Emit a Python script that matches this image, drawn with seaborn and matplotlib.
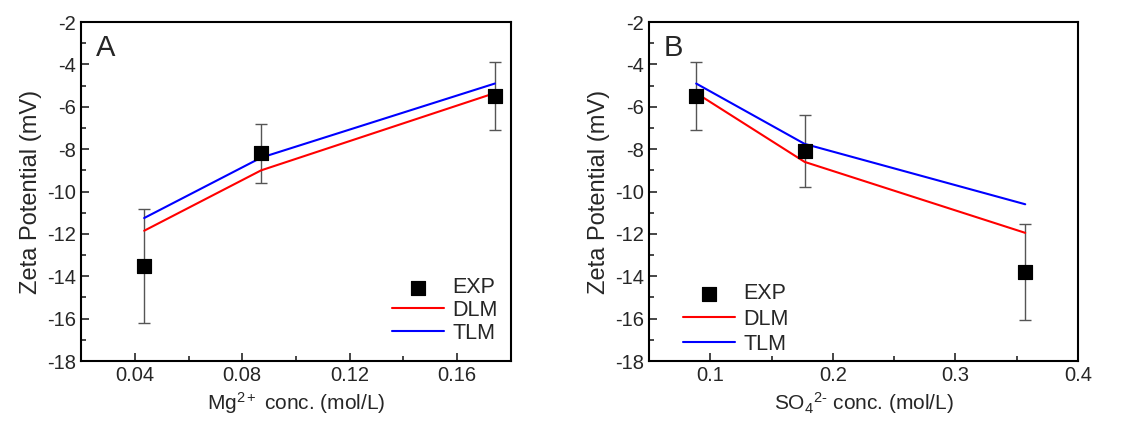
import numpy as np
import pandas as pd
import seaborn as sns
import matplotlib.pyplot as plt
from matplotlib.ticker import MultipleLocator

# Panel A: Mg2+
mg_exp_x = [0.0435, 0.087, 0.174]
mg_exp_y = [-13.5, -8.2, -5.5]
mg_exp_err = [2.7, 1.4, 1.6]
mg_dlm = [-11.85, -9.0, -5.35]
mg_tlm = [-11.25, -8.4, -4.9]

# Panel B: SO4 2-
so4_exp_x = [0.0885, 0.177, 0.357]
so4_exp_y = [-5.5, -8.1, -13.8]
so4_exp_err = [1.6, 1.7, 2.25]
so4_dlm = [-5.35, -8.6, -11.95]
so4_tlm = [-4.9, -7.75, -10.6]

sns.set_theme(style="ticks")
plt.rcParams['font.family'] = ['Liberation Sans', 'DejaVu Sans']
plt.rcParams['axes.unicode_minus'] = False
plt.rcParams['mathtext.fontset'] = 'custom'
plt.rcParams['mathtext.rm'] = 'Liberation Sans'
plt.rcParams['mathtext.it'] = 'Liberation Sans'

fig = plt.figure(figsize=(11.33, 4.21), dpi=100)
axA = fig.add_axes([0.0715, 0.1425, 0.3795, 0.805])
axB = fig.add_axes([0.5728, 0.1425, 0.3786, 0.805])


def panel(ax, x, y, err, dlm, tlm, letter, xlabel, xlim, xmaj, xmin, legend_loc, bbox, lspace):
    ax.errorbar(x, y, yerr=err, fmt='none', ecolor='#555555', elinewidth=1.0,
                capsize=4, capthick=1.0, zorder=2)
    df = pd.DataFrame({'x': x, 'DLM': dlm, 'TLM': tlm, 'EXP': y})
    sns.lineplot(data=df, x='x', y='DLM', color='red', lw=1.5, ax=ax, label='DLM', zorder=3)
    sns.lineplot(data=df, x='x', y='TLM', color='blue', lw=1.5, ax=ax, label='TLM', zorder=3)
    sns.scatterplot(data=df, x='x', y='EXP', marker='s', color='black', s=110,
                    edgecolor='black', ax=ax, label='EXP', zorder=4)
    ax.set_xlim(*xlim)
    ax.set_ylim(-18, -2)
    ax.xaxis.set_major_locator(MultipleLocator(xmaj))
    ax.xaxis.set_minor_locator(MultipleLocator(xmin))
    ax.yaxis.set_major_locator(MultipleLocator(2))
    ax.yaxis.set_minor_locator(MultipleLocator(1))
    ax.tick_params(which='both', direction='in', top=False, right=False, labelsize=14.5, width=1.2)
    ax.tick_params(which='major', length=6)
    ax.tick_params(which='minor', length=3.5)
    for s in ax.spines.values():
        s.set_linewidth(1.5)
        s.set_color('black')
    ax.set_xlabel(xlabel, fontsize=15)
    ax.set_ylabel('Zeta Potential (mV)', fontsize=17, labelpad=4)
    ax.text(0.035, 0.965, letter, transform=ax.transAxes, fontsize=21, va='top', ha='left')
    h, l = ax.get_legend_handles_labels()
    order = [l.index('EXP'), l.index('DLM'), l.index('TLM')]
    ax.legend([h[i] for i in order], [l[i] for i in order], loc=legend_loc,
              bbox_to_anchor=bbox, frameon=False, fontsize=15.5, handlelength=2.4,
              labelspacing=lspace, handletextpad=0.4, borderaxespad=0.2)


panel(axA, mg_exp_x, mg_exp_y, mg_exp_err, mg_dlm, mg_tlm, 'A',
      r'Mg$^{2+}$ conc. (mol/L)', (0.02, 0.18), 0.04, 0.02, 'lower right', (1.0, 0.013), 0.08)
axA.xaxis.set_major_formatter(plt.FuncFormatter(lambda v, p: f"{v:.2f}"))

panel(axB, so4_exp_x, so4_exp_y, so4_exp_err, so4_dlm, so4_tlm, 'B',
      r'SO$_4$$^{2\text{-}}$ conc. (mol/L)', (0.05, 0.4), 0.1, 0.05, 'lower left', (0.05, -0.02), 0.2)
axB.xaxis.set_major_formatter(plt.FuncFormatter(lambda v, p: f"{v:.1f}"))

fig.savefig('out.png', dpi=100)
